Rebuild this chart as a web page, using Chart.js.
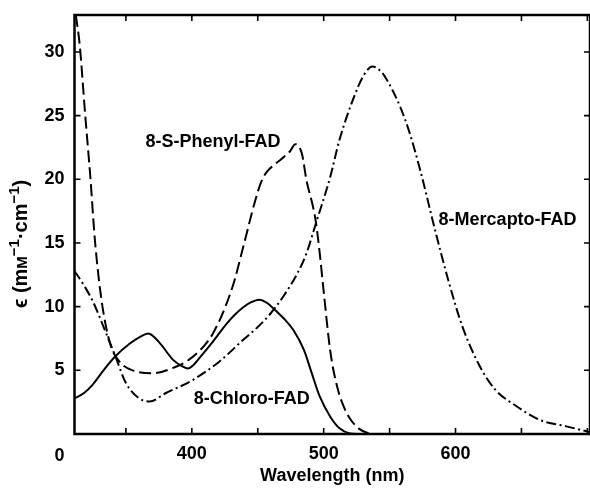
<!DOCTYPE html>
<html>
<head>
<meta charset="utf-8">
<script src="https://cdn.jsdelivr.net/npm/chart.js@4.4.1/dist/chart.umd.min.js"></script>
<style>
  html, body { margin: 0; padding: 0; background: #fff; overflow: hidden; }
</style>
</head>
<body>
<canvas id="spectra" width="590" height="491"></canvas>
<script>
// wavelength (nm) / extinction (mM-1 cm-1)
const chloroWl  = [311, 318, 325, 333, 342, 353, 361, 367, 376, 386, 393, 397, 401, 406, 414, 420, 426, 432, 439, 445, 451, 457, 464, 470, 477, 485, 491, 497, 505, 512, 520, 527];
const chloroEps = [2.8, 3.2, 3.9, 5.0, 6.1, 7.1, 7.65, 7.9, 7.1, 5.8, 5.3, 5.15, 5.4, 6.0, 7.0, 7.8, 8.6, 9.3, 9.95, 10.35, 10.55, 10.3, 9.65, 9.05, 8.16, 6.6, 4.76, 2.95, 1.36, 0.45, 0.05, 0];

const phenylWl  = [312, 315, 319, 323, 326.5, 331.5, 338, 345, 355, 370, 385, 400, 416, 431, 439, 448, 453, 457, 462, 468, 474.5, 478.5, 483.5, 487, 492, 494, 497, 500, 505, 510, 515, 520, 527, 535];
const phenylEps = [32.9, 30.5, 25.2, 20.2, 15.2, 10.5, 7.1, 5.7, 5.0, 4.77, 5.16, 6.0, 7.9, 11.6, 14.7, 18.3, 19.9, 20.6, 21.1, 21.6, 22.2, 22.76, 22.0, 19.9, 17.8, 16.7, 14.2, 11.2, 6.5, 3.8, 2.2, 1.2, 0.4, 0];

const mercaptoWl  = [311, 318, 325, 335, 342, 350, 360, 368, 380, 400, 421, 439, 450, 460, 470, 480, 487, 494, 505, 512, 522, 530, 537, 544, 548, 558, 565, 573, 585, 595, 605, 618, 630, 646, 664, 684, 702];
const mercaptoEps = [12.8, 11.7, 10.4, 7.9, 6.1, 4.0, 2.8, 2.55, 3.2, 4.2, 5.7, 7.4, 8.4, 9.5, 10.9, 12.6, 14.2, 16.5, 20.2, 23.1, 26.2, 28.1, 28.85, 28.4, 27.8, 25.7, 23.7, 20.8, 15.8, 11.9, 8.5, 5.4, 3.5, 2.2, 1.1, 0.6, 0.15];

const xTickLabels = [400, 500, 600];
const yTickLabels = [5, 10, 15, 20, 25, 30];

const curveNames = ['8-S-Phenyl-FAD', '8-Chloro-FAD', '8-Mercapto-FAD'];
const nameWl  = [416, 445.5, 639.5];
const nameEps = [22.9, 2.75, 16.8];

const FONT = '"Liberation Sans", Arial, Helvetica, sans-serif';

function pts(xs, ys) {
    return xs.map((v, i) => ({ x: v, y: ys[i] }));
}

// frame, inward ticks, curve names, y title
const framePlugin = {
    id: 'frame',
    afterDatasetsDraw(chart) {
        const ctx = chart.ctx;
        const a = chart.chartArea;
        const xs = chart.scales.x, ys = chart.scales.y;
        ctx.save();
        ctx.strokeStyle = '#000';
        ctx.lineWidth = 2.5;
        ctx.strokeRect(a.left, a.top, a.right - a.left, a.bottom - a.top);

        ctx.lineWidth = 1.6;
        ctx.beginPath();
        xs.ticks.forEach(t => {
            const px = xs.getPixelForValue(t.value);
            ctx.moveTo(px, a.bottom); ctx.lineTo(px, a.bottom - 6);
            ctx.moveTo(px, a.top); ctx.lineTo(px, a.top + 6);
        });
        ys.ticks.forEach(t => {
            const py = ys.getPixelForValue(t.value);
            ctx.moveTo(a.left, py); ctx.lineTo(a.left + 6, py);
            ctx.moveTo(a.right, py); ctx.lineTo(a.right - 6, py);
        });
        ctx.stroke();

        ctx.fillStyle = '#000';
        ctx.font = 'bold 18px ' + FONT;
        ctx.textAlign = 'center';
        ctx.textBaseline = 'middle';
        curveNames.forEach((n, i) => {
            ctx.fillText(n, xs.getPixelForValue(nameWl[i]), ys.getPixelForValue(nameEps[i]));
        });

        // zero of the y axis sits below the x axis
        ctx.textAlign = 'right';
        ctx.fillText('0', a.left - 10, ys.getPixelForValue(0) + 22);

        // y title with superscripts
        const parts = [
            { t: '\u03F5 (m', s: 20, r: 0 },
            { t: 'M', s: 15, r: 0 },
            { t: '\u22121', s: 15, r: 8 },
            { t: '\u00B7cm', s: 20, r: 0 },
            { t: '\u22121', s: 15, r: 8 },
            { t: ')', s: 20, r: 0 }
        ];
        let total = 0;
        parts.forEach(p => { ctx.font = 'bold ' + p.s + 'px ' + FONT; p.w = ctx.measureText(p.t).width; total += p.w; });
        ctx.translate(20, 244);
        ctx.rotate(-Math.PI / 2);
        ctx.textAlign = 'left';
        ctx.textBaseline = 'alphabetic';
        let cx = -total / 2;
        parts.forEach(p => {
            ctx.font = 'bold ' + p.s + 'px ' + FONT;
            ctx.fillText(p.t, cx, 7 - p.r);
            cx += p.w;
        });
        ctx.restore();
    }
};

const ctx = document.getElementById('spectra').getContext('2d');
const myChart = new Chart(ctx, {
    type: 'scatter',
    data: {
        datasets: [{
            label: '8-Chloro-FAD',
            data: pts(chloroWl, chloroEps),
            borderColor: '#000',
            borderWidth: 2,
        }, {
            label: '8-S-Phenyl-FAD',
            data: pts(phenylWl, phenylEps),
            borderColor: '#000',
            borderWidth: 2,
            borderDash: [12, 5],
        }, {
            label: '8-Mercapto-FAD',
            data: pts(mercaptoWl, mercaptoEps),
            borderColor: '#000',
            borderWidth: 2,
            borderDash: [10, 3.5, 2, 3.5],
        }]
    },
    options: {
        responsive: false,
        animation: false,
        showLine: true,
        layout: { padding: { top: 15, right: 0, left: 0, bottom: 0 } },
        elements: {
            point: { radius: 0 },
            line: { cubicInterpolationMode: 'monotone', fill: false }
        },
        plugins: {
            legend: { display: false },
            tooltip: { enabled: false }
        },
        scales: {
            x: {
                type: 'linear',
                min: 311,
                max: 702,
                grid: { display: false, drawTicks: false },
                border: { display: false },
                afterFit(s) { s.height = 57; s.paddingLeft = 0; s.paddingRight = 0; },
                ticks: {
                    stepSize: 50,
                    includeBounds: false,
                    maxRotation: 0,
                    autoSkip: false,
                    padding: 9,
                    color: '#000',
                    font: { family: FONT, size: 18, weight: 'bold' },
                    callback: v => xTickLabels.includes(v) ? String(v) : ''
                },
                title: {
                    display: true,
                    text: 'Wavelength (nm)',
                    color: '#000',
                    font: { family: FONT, size: 18, weight: 'bold' },
                    padding: { top: 0 }
                }
            },
            y: {
                min: 0,
                max: 32.9,
                grid: { display: false, drawTicks: false },
                border: { display: false },
                afterFit(s) { s.width = 74.5; s.paddingTop = 0; s.paddingBottom = 0; },
                ticks: {
                    stepSize: 5,
                    includeBounds: false,
                    autoSkip: false,
                    padding: 10,
                    color: '#000',
                    font: { family: FONT, size: 18, weight: 'bold' },
                    callback: v => yTickLabels.includes(v) ? String(v) : ''
                }
            }
        }
    },
    plugins: [framePlugin]
});
</script>
</body>
</html>
